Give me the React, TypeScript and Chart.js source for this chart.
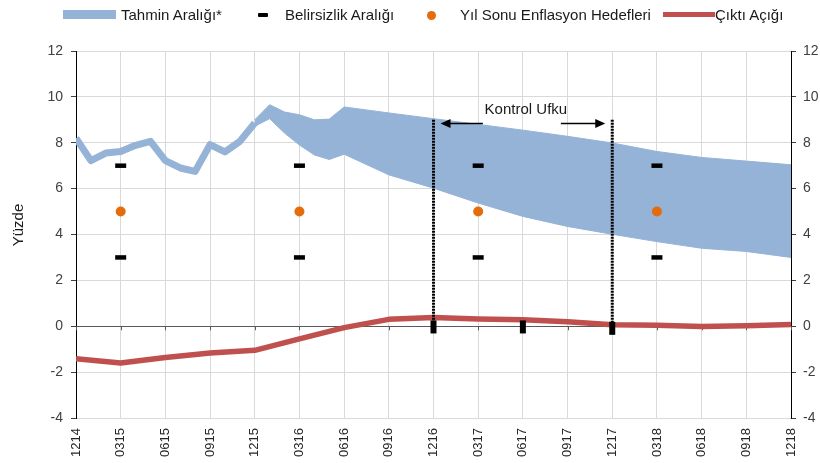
import React, { useEffect, useRef } from 'react';
import { Chart, registerables } from 'chart.js';
Chart.register(...registerables);

// Axis tick labels (quarterly, MMYY)
const tickLabels = ['1214', '0315', '0615', '0915', '1215', '0316', '0616', '0916', '1216', '0317', '0617', '0917', '1217', '0318', '0618', '0918', '1218'];

// Realised inflation (monthly)
const inflationPeriods = ['1214', '0115', '0215', '0315', '0415', '0515', '0615', '0715', '0815', '0915', '1015', '1115', '1215'];
const inflationValues = [8.2, 7.22, 7.55, 7.62, 7.89, 8.06, 7.22, 6.9, 6.75, 7.92, 7.6, 8.06, 8.86];

// Forecast range (Tahmin Aralığı)
const bandPeriods = ['1215', '0116', '0216', '0316', '0416', '0516', '0616', '0916', '1216', '0317', '0617', '0917', '1217', '0318', '0618', '0918', '1218'];
const bandUpper = [9.0, 9.66, 9.34, 9.22, 9.0, 9.03, 9.56, 9.3, 9.05, 8.8, 8.55, 8.28, 7.99, 7.62, 7.36, 7.2, 7.04];
const bandLower = [8.72, 9.05, 8.42, 7.9, 7.47, 7.27, 7.5, 6.6, 6.02, 5.37, 4.79, 4.35, 4.01, 3.69, 3.4, 3.26, 3.0];

// Output gap (Çıktı Açığı), quarterly
const gapPeriods = tickLabels;
const gapValues = [-1.42, -1.6, -1.36, -1.17, -1.05, -0.55, -0.06, 0.3, 0.38, 0.32, 0.28, 0.2, 0.07, 0.04, -0.01, 0.02, 0.08];

// Year-end targets and uncertainty band
const targetPeriods = ['0315', '0316', '0317', '0318'];
const targetValues = [5, 5, 5, 5];
const uncertaintyUpper = [7, 7, 7, 7];
const uncertaintyLower = [3, 3, 3, 3];

// Control horizon
const horizonPeriods = ['1216', '1217'];
const horizonTop = [9.0, 9.0];
const horizonBottom = [0, 0];
const markerPeriods = ['1216', '0617', '1217'];
const markerValues = [-0.03, -0.03, -0.09];
const horizonLabel = 'Kontrol Ufku';

const BLUE = '#95B3D7';
const RED = '#C0504D';
const ORANGE = '#E46C0A';
const FONT = "'Liberation Sans', Arial, sans-serif";

const toIdx = (p: string) => (parseInt(p.slice(2), 10) - 14) * 12 + parseInt(p.slice(0, 2), 10) - 12;
const pts = (periods: string[], values: number[]) => periods.map((p, i) => ({ x: toIdx(p), y: values[i] }));

export default function App() {
  const ref = useRef<HTMLCanvasElement>(null);

  useEffect(() => {
    const canvas = ref.current!;
    const h0 = toIdx(horizonPeriods[0]);
    const h1 = toIdx(horizonPeriods[1]);

    const zeroTicks = {
      id: 'zeroTicks',
      beforeDatasetsDraw(chart: any) {
        const { ctx, scales } = chart;
        const y0 = scales.y.getPixelForValue(0);
        ctx.save();
        ctx.strokeStyle = '#595959';
        ctx.lineWidth = 1;
        for (const t of scales.x.ticks) {
          const px = Math.round(scales.x.getPixelForValue(t.value)) + 0.5;
          ctx.beginPath();
          ctx.moveTo(px, y0);
          ctx.lineTo(px, y0 + 4);
          ctx.stroke();
        }
        ctx.restore();
      },
    };

    const annotations = {
      id: 'annotations',
      afterDatasetsDraw(chart: any) {
        const { ctx, scales } = chart;
        const xs = scales.x, ys = scales.y;
        const midX = (xs.getPixelForValue(h0) + xs.getPixelForValue(h1)) / 2;
        const textY = ys.getPixelForValue(9.42);
        ctx.save();
        ctx.font = `15px ${FONT}`;
        ctx.fillStyle = '#1a1a1a';
        ctx.textAlign = 'center';
        ctx.textBaseline = 'middle';
        ctx.fillText(horizonLabel, midX + 3, textY);
        const ay = ys.getPixelForValue(8.84);
        const leftTip = xs.getPixelForValue(h0) + 7;
        const rightTip = xs.getPixelForValue(h1) - 7;
        const arrow = (from: number, to: number) => {
          const dir = Math.sign(to - from);
          ctx.strokeStyle = '#000';
          ctx.lineWidth = 1.5;
          ctx.beginPath();
          ctx.moveTo(from, ay);
          ctx.lineTo(to - dir * 9, ay);
          ctx.stroke();
          ctx.fillStyle = '#000';
          ctx.beginPath();
          ctx.moveTo(to, ay);
          ctx.lineTo(to - dir * 10, ay - 4.5);
          ctx.lineTo(to - dir * 10, ay + 4.5);
          ctx.closePath();
          ctx.fill();
        };
        arrow(midX - 40, leftTip);
        arrow(midX + 38, rightTip);
        ctx.restore();
      },
    };

    const yTitle = {
      id: 'yTitle',
      afterDraw(chart: any) {
        const { ctx } = chart;
        ctx.save();
        ctx.translate(19, 225);
        ctx.rotate(-Math.PI / 2);
        ctx.font = `15px ${FONT}`;
        ctx.fillStyle = '#1a1a1a';
        ctx.textAlign = 'center';
        ctx.textBaseline = 'middle';
        ctx.fillText('Yüzde', 0, 0);
        ctx.restore();
      },
    };

    const chart = new Chart(canvas, {
      type: 'line',
      data: {
        datasets: [
          {
            label: 'marker',
            data: pts(markerPeriods, markerValues),
            showLine: false,
            pointStyle: 'line',
            pointRotation: 90,
            pointRadius: 6.5,
            pointBorderWidth: 6,
            pointBorderColor: '#000',
            order: 0,
            fill: false,
          },
          {
            label: 'horizon1',
            data: [{ x: h0, y: horizonTop[0] }, { x: h0, y: horizonBottom[0] }],
            borderColor: '#000',
            borderWidth: 3,
            borderDash: [2, 1],
            pointRadius: 0,
            order: 1,
            fill: false,
          },
          {
            label: 'horizon2',
            data: [{ x: h1, y: horizonTop[1] }, { x: h1, y: horizonBottom[1] }],
            borderColor: '#000',
            borderWidth: 3,
            borderDash: [2, 1],
            pointRadius: 0,
            order: 1,
            fill: false,
          },
          {
            label: 'Belirsizlik Aralığı',
            data: [...pts(targetPeriods, uncertaintyUpper), ...pts(targetPeriods, uncertaintyLower)],
            showLine: false,
            pointStyle: 'line',
            pointRadius: 5.5,
            pointBorderWidth: 4.5,
            pointBorderColor: '#000',
            order: 2,
            fill: false,
          },
          {
            label: 'Yıl Sonu Enflasyon Hedefleri',
            data: pts(targetPeriods, targetValues),
            showLine: false,
            pointRadius: 5,
            pointBorderWidth: 0,
            pointBackgroundColor: ORANGE,
            order: 2,
            fill: false,
          },
          {
            label: 'Çıktı Açığı',
            data: pts(gapPeriods, gapValues),
            borderColor: RED,
            borderWidth: 5.5,
            borderJoinStyle: 'round',
            pointRadius: 0,
            order: 3,
            fill: false,
          },
          {
            label: 'history',
            data: pts(inflationPeriods, inflationValues),
            borderColor: BLUE,
            borderWidth: 7,
            borderJoinStyle: 'round',
            pointRadius: 0,
            order: 4,
            fill: false,
          },
          {
            label: 'bandLower',
            data: pts(bandPeriods, bandLower),
            borderColor: BLUE,
            borderWidth: 1,
            pointRadius: 0,
            order: 6,
            fill: false,
          },
          {
            label: 'Tahmin Aralığı*',
            data: pts(bandPeriods, bandUpper),
            borderColor: BLUE,
            borderWidth: 1,
            backgroundColor: BLUE,
            pointRadius: 0,
            order: 5,
            fill: '-1',
          },
        ],
      },
      options: {
        responsive: false,
        animation: false,
        devicePixelRatio: 1,
        events: [],
        layout: { padding: { top: 51, left: 0, right: 0, bottom: 0 } },
        plugins: { legend: { display: false }, tooltip: { enabled: false } },
        scales: {
          x: {
            type: 'linear',
            min: 0,
            max: 48,
            afterFit: (s: any) => { s.height = 45; },
            ticks: {
              stepSize: 3,
              autoSkip: false,
              maxRotation: 90,
              minRotation: 90,
              padding: 10,
              color: '#262626',
              font: { family: FONT, size: 13 },
              callback: (v: any) => tickLabels[Math.round(Number(v) / 3)] ?? '',
            },
            grid: { color: '#d9d9d9', drawTicks: false },
            border: { display: false },
          },
          y: {
            position: 'left',
            min: -4,
            max: 12,
            afterFit: (s: any) => { s.width = 76; },
            ticks: { stepSize: 2, padding: 8, color: '#404040', font: { family: FONT, size: 14 } },
            grid: {
              color: (c: any) => (c.tick && c.tick.value === 0 ? '#595959' : '#d9d9d9'),
              tickLength: 5,
              tickColor: '#404040',
            },
            border: { color: '#000', width: 1 },
          },
          y2: {
            position: 'right',
            min: -4,
            max: 12,
            afterFit: (s: any) => { s.width = 29; },
            ticks: { stepSize: 2, padding: 7, color: '#404040', font: { family: FONT, size: 14 } },
            grid: { drawOnChartArea: false, tickLength: 5, tickColor: '#404040' },
            border: { color: '#000', width: 1 },
          },
        },
      },
      plugins: [zeroTicks, annotations, yTitle],
    } as any);
    return () => chart.destroy();
  }, []);

  const textStyle: React.CSSProperties = {
    position: 'absolute',
    top: 7,
    fontFamily: FONT,
    fontSize: 15,
    lineHeight: '15px',
    color: '#1a1a1a',
    whiteSpace: 'nowrap',
  };

  return (
    <div style={{ position: 'absolute', left: 0, top: 0, width: 820, height: 463, background: '#fff', overflow: 'hidden' }}>
      <canvas ref={ref} width={820} height={463} style={{ position: 'absolute', left: 0, top: 0, width: 820, height: 463 }} />
      <div style={{ position: 'absolute', left: 63, top: 10, width: 53, height: 9, background: BLUE }} />
      <span style={{ ...textStyle, left: 121 }}>Tahmin Aralığı*</span>
      <div style={{ position: 'absolute', left: 258, top: 13, width: 10, height: 4, background: '#000', borderRadius: 1 }} />
      <span style={{ ...textStyle, left: 285 }}>Belirsizlik Aralığı</span>
      <div style={{ position: 'absolute', left: 427, top: 11, width: 9, height: 9, borderRadius: '50%', background: ORANGE }} />
      <span style={{ ...textStyle, left: 460 }}>Yıl Sonu Enflasyon Hedefleri</span>
      <div style={{ position: 'absolute', left: 663, top: 12, width: 52, height: 5, background: RED }} />
      <span style={{ ...textStyle, left: 715 }}>Çıktı Açığı</span>
    </div>
  );
}
